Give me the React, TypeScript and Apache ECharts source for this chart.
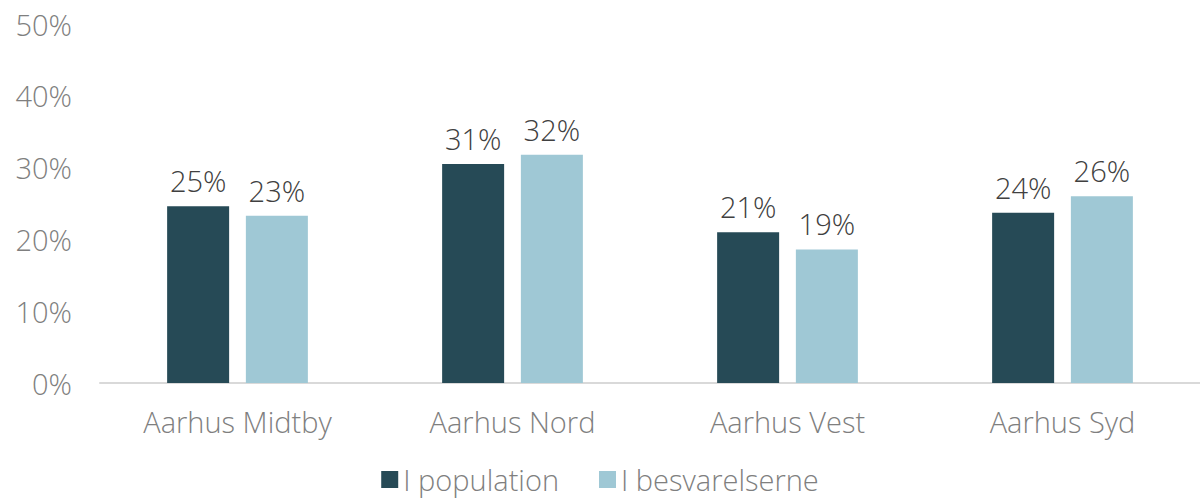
import React, { useEffect, useRef } from "react";
import * as echarts from "echarts";

// Andel pr. område: befolkning vs. besvarelser (i procent)
const categories = ["Aarhus Midtby", "Aarhus Nord", "Aarhus Vest", "Aarhus Syd"];
const populationValues = [24.6, 30.5, 21.0, 23.7];
const responseValues = [23.3, 31.8, 18.6, 26.0];
const seriesNames = ["I population", "I besvarelserne"];
const yTicks = [0, 10, 20, 30, 40, 50];

const FONT = "'Open Sans', Lato, sans-serif";
const DARK = "#264a56";
const LIGHT = "#9fc8d5";

export default function App() {
  const ref = useRef<HTMLDivElement>(null);

  useEffect(() => {
    if (!ref.current) return;
    const chart = echarts.init(ref.current, undefined, { renderer: "svg" });
    const labelCfg = {
      show: true,
      position: "top" as const,
      distance: 11,
      color: "#404040",
      fontSize: 29,
      fontFamily: FONT,
      fontWeight: 300 as any,
      formatter: (p: any) => `${Math.round(p.value)}%`,
    };
    chart.setOption({
      animation: false,
      textStyle: { fontFamily: FONT },
      grid: { left: 100, right: 0, top: 24, bottom: 118 },
      legend: {
        bottom: 2,
        left: "center",
        icon: "rect",
        itemWidth: 17,
        itemHeight: 17,
        itemGap: 40,
        textStyle: { fontSize: 29, color: "#7f7f7f", fontFamily: FONT, fontWeight: 300 as any },
        data: seriesNames,
      },
      xAxis: {
        type: "category",
        data: categories,
        axisLine: { lineStyle: { color: "#d9d9d9", width: 2 } },
        axisTick: { show: false },
        axisLabel: { color: "#7f7f7f", fontSize: 29, margin: 24, fontFamily: FONT, fontWeight: 300 as any },
      },
      yAxis: {
        type: "value",
        min: yTicks[0],
        max: yTicks[yTicks.length - 1],
        interval: 10,
        splitLine: { show: false },
        axisLine: { show: false },
        axisTick: { show: false },
        axisLabel: {
          color: "#7f7f7f",
          fontSize: 29,
          margin: 28,
          fontFamily: FONT,
          fontWeight: 300 as any,
          formatter: (v: number) => `${v}%`,
        },
      },
      series: [
        {
          name: seriesNames[0],
          type: "bar",
          data: populationValues,
          barWidth: 62,
          barGap: "27%",
          itemStyle: { color: DARK },
          label: labelCfg,
        },
        {
          name: seriesNames[1],
          type: "bar",
          data: responseValues,
          barWidth: 62,
          itemStyle: { color: LIGHT },
          label: labelCfg,
        },
      ],
    });
    return () => chart.dispose();
  }, []);

  return (
    <div
      ref={ref}
      style={{ position: "absolute", left: 0, top: 0, width: 1200, height: 501, background: "#fff" }}
    />
  );
}
